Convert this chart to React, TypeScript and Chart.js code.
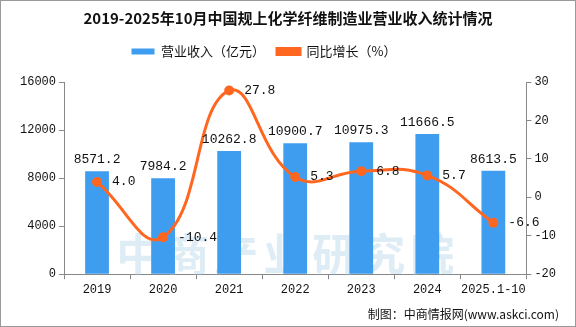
import React, { useEffect, useRef } from "react";
import { Chart, registerables } from "chart.js";

Chart.register(...registerables);

const categories = ["2019", "2020", "2021", "2022", "2023", "2024", "2025.1-10"];
const revenue = [8571.2, 7984.2, 10262.8, 10900.7, 10975.3, 11666.5, 8613.5];
const growth = [4.0, -10.4, 27.8, 5.3, 6.8, 5.7, -6.6];
const titleText = "2019-2025年10月中国规上化学纤维制造业营业收入统计情况";
const revenueLabel = "营业收入（亿元）";
const growthLabel = "同比增长（%）";
const footerText = "制图：中商情报网(www.askci.com)";
const watermarkText = "中商产业研究院";

const MONO = "'Liberation Mono', 'DejaVu Sans Mono', monospace";
const CJK = "'Noto Sans CJK SC', sans-serif";

const labelPlugin = {
  id: "valueLabels",
  afterDatasetsDraw(chart: any) {
    const ctx = chart.ctx;
    ctx.save();
    ctx.fillStyle = "#111";
    ctx.font = `13px ${MONO}`;
    const barMeta = chart.getDatasetMeta(0);
    barMeta.data.forEach((el: any, i: number) => {
      ctx.textAlign = "center";
      ctx.textBaseline = "bottom";
      ctx.fillText(revenue[i].toFixed(1), el.x, el.y - 5);
    });
    const lineMeta = chart.getDatasetMeta(1);
    lineMeta.data.forEach((el: any, i: number) => {
      ctx.textAlign = "left";
      ctx.textBaseline = "middle";
      ctx.fillText(growth[i].toFixed(1), el.x + 15, el.y);
    });
    ctx.restore();
  },
};

const watermarkPlugin = {
  id: "watermark",
  beforeDatasetsDraw(chart: any) {
    const ctx = chart.ctx;
    const a = chart.chartArea;
    ctx.save();
    ctx.fillStyle = "rgba(160, 200, 225, 0.35)";
    ctx.font = `bold 44px ${CJK}`;
    ctx.textAlign = "center";
    ctx.textBaseline = "middle";
    const chars = watermarkText.split("");
    const step = 49;
    const start = (a.left + a.right) / 2 - 10 - (step * (chars.length - 1)) / 2;
    chars.forEach((c, i) => ctx.fillText(c, start + i * step, a.bottom - 20));
    ctx.restore();
  },
};

const legendTweak = {
  id: "legendTweak",
  beforeInit(chart: any) {
    const legend = chart.legend;
    const fit = legend.fit;
    legend.fit = function () {
      fit.bind(legend)();
      this.height += 12;
    };
    const draw = legend.draw;
    legend.draw = function (...args: any[]) {
      const ctx = chart.ctx;
      ctx.save();
      ctx.translate(-24, -2);
      draw.apply(legend, args);
      ctx.restore();
    };
  },
};

export default function App() {
  const ref = useRef<HTMLCanvasElement>(null);
  useEffect(() => {
    document.body.style.margin = "0";
    const chart = new Chart(ref.current!, {
      type: "bar",
      data: {
        labels: categories,
        datasets: [
          {
            type: "bar",
            label: revenueLabel,
            data: revenue,
            backgroundColor: "#3F9DF0",
            borderWidth: 0,
            barPercentage: 0.36,
            categoryPercentage: 1,
            yAxisID: "y",
            order: 2,
          },
          {
            type: "line",
            label: growthLabel,
            data: growth,
            borderColor: "#FF6620",
            backgroundColor: "#FF6620",
            borderWidth: 3,
            pointRadius: 5,
            pointBackgroundColor: "#FF6620",
            pointBorderWidth: 0,
            tension: 0.45,
            yAxisID: "y1",
            order: 1,
          },
        ],
      },
      options: {
        animation: false,
        responsive: false,
        maintainAspectRatio: false,
        layout: { padding: { left: 16, right: 16, top: 0, bottom: 0 } },
        plugins: {
          title: {
            display: true,
            text: titleText,
            color: "#111",
            font: { family: CJK, size: 15, weight: "bold" },
            padding: { top: 8, bottom: 8 },
          },
          subtitle: {
            display: true,
            text: footerText,
            position: "bottom",
            align: "end",
            color: "#111",
            font: { family: CJK, size: 12 },
            padding: { top: 8, bottom: 4 },
          },
          legend: {
            display: true,
            labels: {
              boxWidth: 23,
              boxHeight: 6,
              color: "#111",
              font: { family: CJK, size: 13 },
              padding: 12,
              sort: (a: any, b: any) => a.datasetIndex - b.datasetIndex,
            },
          },
          tooltip: { enabled: false },
        },
        scales: {
          x: {
            grid: { display: true, drawOnChartArea: false, offset: true, color: "#888", tickLength: 5 },
            border: { color: "#888" },
            ticks: { color: "#111", font: { family: MONO, size: 12 }, maxRotation: 0, autoSkip: false },
          },
          y: {
            position: "left",
            min: 0,
            max: 16000,
            ticks: {
              stepSize: 4000,
              color: "#111",
              font: { family: MONO, size: 12 },
              callback: (v: any) => String(v),
            },
            grid: { display: true, drawOnChartArea: false, color: "#888", tickLength: 5 },
            border: { color: "#888" },
          },
          y1: {
            position: "right",
            min: -20,
            max: 30,
            ticks: { stepSize: 10, color: "#111", font: { family: MONO, size: 12 } },
            grid: { display: true, drawOnChartArea: false, color: "#888", tickLength: 5 },
            border: { color: "#888" },
          },
        },
      },
      plugins: [watermarkPlugin, labelPlugin, legendTweak],
    });
    return () => chart.destroy();
  }, []);
  return (
    <div style={{ width: 574, height: 325, border: "1px solid #999", background: "#fff" }}>
      <canvas ref={ref} width={574} height={325} />
    </div>
  );
}
